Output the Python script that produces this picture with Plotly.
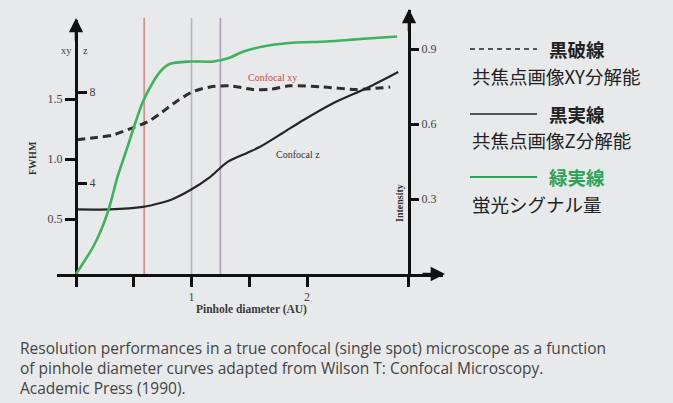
import plotly.graph_objects as go

# ---- data: pinhole diameter in Airy units (AU) ----
green_x = [0.00, 0.15, 0.23, 0.29, 0.36, 0.44, 0.51, 0.58, 0.67, 0.73, 0.81,
           0.99, 1.19, 1.33, 1.45, 1.68, 1.88, 2.17, 2.46, 2.78]
green_intensity = [0.00, 0.11, 0.19, 0.27, 0.39, 0.50, 0.60, 0.69, 0.77, 0.81, 0.84,
                   0.85, 0.85, 0.865, 0.89, 0.915, 0.925, 0.93, 0.94, 0.95]

xy_x = [0.01, 0.18, 0.32, 0.49, 0.62, 0.73, 0.87, 1.01, 1.16, 1.33, 1.53,
        1.68, 1.85, 2.14, 2.43, 2.72]
xy_fwhm = [1.16, 1.18, 1.20, 1.26, 1.31, 1.38, 1.48, 1.56, 1.60, 1.61, 1.58,
           1.58, 1.61, 1.60, 1.58, 1.60]

z_x = [0.01, 0.29, 0.58, 0.73, 0.84, 0.99, 1.16, 1.31, 1.48, 1.59, 1.79,
       1.97, 2.23, 2.52, 2.79]
z_fwhm = [2.84, 2.84, 2.95, 3.12, 3.30, 3.69, 4.26, 4.92, 5.32, 5.58, 6.20,
          6.77, 7.52, 8.18, 8.88]

marker_x = [0.59, 1.00, 1.25]
marker_colors = ["#d98a84", "#bfb3b6", "#ab9fbd"]

x_ticks = [0, 0.5, 1, 1.5, 2, 2.88]
x_ticktext = ["", "", "1", "", "2", ""]
xy_ticks = [0.5, 1.0, 1.5]
xy_ticktext = ["0.5", "1.0", "1.5"]
z_ticks = [4, 8]
int_ticks = [0.3, 0.6, 0.9]

caption_lines = [
    "Resolution performances in a true confocal (single spot) microscope as a function",
    "of pinhole diameter curves adapted from Wilson T: Confocal Microscopy.",
    "Academic Press (1990).",
]

BG = "#e8e9ea"
SERIF = "Liberation Serif"
CJK = "Noto Sans CJK JP"

# plot-area bounds in window pixels, used for placing decorations
L, R, T, B = 57, 443, 10, 274


def px(x):
    return (x - L) / (R - L)


def py(y):
    return (B - y) / (B - T)


fig = go.Figure()

# reference pinhole sizes
for xv, col in zip(marker_x, marker_colors):
    fig.add_shape(type="line", xref="x", yref="paper", x0=xv, x1=xv, y0=0, y1=py(18),
                  line=dict(color=col, width=1.6), layer="below")

fig.add_trace(go.Scatter(x=green_x, y=green_intensity, mode="lines", yaxis="y3",
                         line=dict(color="#3cb35c", width=2.6, shape="spline", smoothing=0.8),
                         showlegend=False, hoverinfo="skip"))
fig.add_trace(go.Scatter(x=xy_x, y=xy_fwhm, mode="lines", yaxis="y",
                         line=dict(color="#2e2e2e", width=3, dash="8px,5px", shape="spline", smoothing=0.8),
                         showlegend=False, hoverinfo="skip"))
fig.add_trace(go.Scatter(x=z_x, y=z_fwhm, mode="lines", yaxis="y2",
                         line=dict(color="#262626", width=2.2, shape="spline", smoothing=0.8),
                         showlegend=False, hoverinfo="skip"))

tickfont = dict(family=SERIF, size=12, color="#444")
left_pos = px(76)
right_pos = px(409)

fig.update_layout(
    width=673, height=403,
    margin=dict(l=L, r=673 - R, t=T, b=403 - B),
    paper_bgcolor=BG, plot_bgcolor="rgba(0,0,0,0)",
    showlegend=False,
    xaxis=dict(range=[(L - 76) / 115.5, (R - 76) / 115.5], showgrid=False, zeroline=False,
               showline=True, linecolor="#111", linewidth=3,
               ticks="outside", ticklen=10, tickwidth=3, tickcolor="#111",
               tickvals=x_ticks, ticktext=x_ticktext, tickfont=tickfont, anchor="y"),
    yaxis=dict(domain=[0, py(20)], range=[(279 - B) / 120, (279 - 20) / 120],
               anchor="free", position=left_pos, side="left",
               showgrid=False, zeroline=False, showline=True, linecolor="#111", linewidth=3,
               ticks="outside", ticklen=10, tickwidth=3, tickcolor="#111",
               tickvals=xy_ticks, ticktext=xy_ticktext, tickfont=tickfont),
    yaxis2=dict(domain=[0, py(20)], range=[0, (B - 20) / 22.75], overlaying="y",
                anchor="free", position=left_pos, side="right",
                showgrid=False, zeroline=False, showline=False,
                ticks="outside", ticklen=10, tickwidth=3, tickcolor="#111",
                tickvals=z_ticks, tickfont=tickfont),
    yaxis3=dict(domain=[0, 1], range=[0, (B - T) / 250],
                anchor="free", position=right_pos, side="right",
                showgrid=False, zeroline=False, showline=True, linecolor="#111", linewidth=3,
                ticks="outside", ticklen=8, tickwidth=3, tickcolor="#111",
                tickvals=int_ticks, tickfont=tickfont),
)

ann = []


def text(x, y, s, size=10, color="#333", family=SERIF, angle=0, xanchor="center", **kw):
    ann.append(dict(x=px(x), y=py(y), xref="paper", yref="paper", text=s, showarrow=False,
                    font=dict(family=family, size=size, color=color), textangle=angle,
                    xanchor=xanchor, yanchor="middle", **kw))


def arrow(x, y, ax, ay):
    ann.append(dict(x=px(x), y=py(y), xref="paper", yref="paper", text="", showarrow=True,
                    ax=ax, ay=ay, arrowhead=2, arrowsize=1.1, arrowwidth=2.6,
                    arrowcolor="#111", standoff=0))


arrow(445, B, -24, 0)
arrow(76, 18, 0, 24)
arrow(409, 9, 0, 24)

text(66, 51, "xy", size=10.5, color="#444")
text(85, 51, "z", size=10.5, color="#444")
text(32, 158, "<b>FWHM</b>", size=10, color="#333", angle=-90)
text(399, 203, "<b>Intensity</b>", size=10, color="#333", angle=-90)
text(272, 77, "Confocal xy", size=10, color="#cc4a42")
text(298, 154, "Confocal z", size=10, color="#333")
text(251, 310, "<b>Pinhole diameter (AU)</b>", size=11.5, color="#3a3a3a")

# key on the right
KX = 547
text(KX, 49, "<b>黒破線</b>", size=18.5, color="#222", family=CJK, xanchor="left")
text(470, 76, "共焦点画像XY分解能", size=18.5, color="#222", family=CJK, xanchor="left")
text(KX, 114, "<b>黒実線</b>", size=18.5, color="#222", family=CJK, xanchor="left")
text(470, 140, "共焦点画像Z分解能", size=18.5, color="#222", family=CJK, xanchor="left")
text(KX, 177, "<b>緑実線</b>", size=18.5, color="#2aa356", family=CJK, xanchor="left")
text(470, 204, "蛍光シグナル量", size=18.5, color="#222", family=CJK, xanchor="left")

fig.add_shape(type="line", xref="paper", yref="paper", x0=px(470), x1=px(537), y0=py(49), y1=py(49),
              line=dict(color="#222", width=1.6, dash="5px,4px"))
fig.add_shape(type="line", xref="paper", yref="paper", x0=px(470), x1=px(537), y0=py(114), y1=py(114),
              line=dict(color="#222", width=1.6))
fig.add_shape(type="line", xref="paper", yref="paper", x0=px(470), x1=px(537), y0=py(177), y1=py(177),
              line=dict(color="#2aa356", width=2))

# caption as a single multi-line annotation
ann.append(dict(x=px(18), y=py(335), xref="paper", yref="paper",
                text="<br>".join(caption_lines), showarrow=False, align="left",
                font=dict(family="Open Sans", size=15.5, color="#444"),
                xanchor="left", yanchor="top"))

fig.update_layout(annotations=ann)

fig.write_html("out.html")
